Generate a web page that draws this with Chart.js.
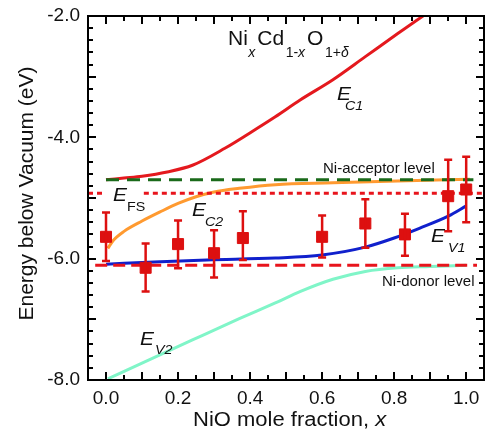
<!DOCTYPE html>
<html><head><meta charset="utf-8">
<script src="https://cdn.jsdelivr.net/npm/chart.js@4.4.0/dist/chart.umd.min.js"></script>
<style>html,body{margin:0;padding:0;background:#fff;} canvas{display:block;}</style>
</head><body>
<canvas id="c" width="493" height="432"></canvas>
<script>
// ---- data ----
const xTickLabels = [0.0, 0.2, 0.4, 0.6, 0.8, 1.0];
const yTickLabels = [-8.0, -6.0, -4.0, -2.0];

const ec1X = [0.0, 0.05, 0.10, 0.17, 0.24, 0.33, 0.42, 0.47, 0.54, 0.63, 0.72, 0.81, 0.88, 0.90];
const ec1Y = [-4.70, -4.67, -4.64, -4.57, -4.46, -4.18, -3.85, -3.66, -3.38, -3.05, -2.67, -2.29, -2.00, -1.92];

const ec2X = [0.005, 0.02, 0.05, 0.10, 0.15, 0.20, 0.25, 0.30, 0.37, 0.47, 0.63, 0.81, 1.01];
const ec2Y = [-5.83, -5.70, -5.55, -5.38, -5.23, -5.09, -4.98, -4.90, -4.84, -4.78, -4.75, -4.72, -4.69];

const ev1X = [0.0, 0.15, 0.28, 0.47, 0.60, 0.72, 0.80, 0.87, 0.95, 1.00];
const ev1Y = [-6.09, -6.05, -6.02, -5.99, -5.94, -5.81, -5.66, -5.50, -5.30, -5.13];

const ev2X = [0.005, 0.10, 0.24, 0.37, 0.47, 0.54, 0.63, 0.72, 0.81, 0.90, 1.00];
const ev2Y = [-7.98, -7.72, -7.34, -6.99, -6.73, -6.54, -6.34, -6.21, -6.15, -6.13, -6.11];

const acceptorX = [0.0, 1.02];
const acceptorY = [-4.70, -4.70];
const donorX = [-0.03, 1.03];
const donorY = [-6.11, -6.11];
const efsX = [-0.05, 0.0, 0.05, 0.105, 1.05];
const efsY = [-4.92, -4.92, null, -4.92, -4.92];

const measX = [0.0, 0.11, 0.20, 0.30, 0.38, 0.60, 0.72, 0.83, 0.95, 1.00];
const measY = [-5.64, -6.15, -5.76, -5.91, -5.66, -5.64, -5.42, -5.60, -4.97, -4.86];
const errTop = [-5.24, -5.75, -5.37, -5.53, -5.22, -5.29, -5.02, -5.26, -4.37, -4.32];
const errBottom = [-6.04, -6.54, -6.16, -6.31, -6.02, -5.98, -5.82, -5.95, -5.55, -5.40];

// ---- helpers ----
const zip = (xs, ys) => xs.map((x, i) => ({x: x, y: ys[i]}));
const FONT = '"Liberation Sans", Arial, Helvetica, sans-serif';

function lineDs(xs, ys, color, width, dash) {
  return {
    type: 'line', data: zip(xs, ys), borderColor: color, borderWidth: width,
    borderDash: dash || [], pointRadius: 0, fill: false,
    cubicInterpolationMode: 'monotone', spanGaps: false, borderCapStyle: 'butt'
  };
}

function noPad(s) { s.paddingTop = 0; s.paddingBottom = 0; s.paddingLeft = 0; s.paddingRight = 0; }

const decor = {
  id: 'decor',
  afterDatasetsDraw(chart) {
    const ctx = chart.ctx, xs = chart.scales.x, ys = chart.scales.y;
    ctx.save();
    ctx.setLineDash([]);
    ctx.strokeStyle = '#dd1010';
    ctx.lineWidth = 2.5;
    for (let i = 0; i < measX.length; i++) {
      const px = xs.getPixelForValue(measX[i]);
      const t = ys.getPixelForValue(errTop[i]);
      const b = ys.getPixelForValue(errBottom[i]);
      ctx.beginPath();
      ctx.moveTo(px, t); ctx.lineTo(px, b);
      ctx.moveTo(px - 4, t); ctx.lineTo(px + 4, t);
      ctx.moveTo(px - 4, b); ctx.lineTo(px + 4, b);
      ctx.stroke();
    }
    ctx.restore();
  },
  afterDraw(chart) {
    const ctx = chart.ctx, xs = chart.scales.x, ys = chart.scales.y;
    const L0 = Math.round(xs.getPixelForValue(-0.05)), R0 = Math.round(xs.getPixelForValue(1.05));
    const T0 = Math.round(ys.getPixelForValue(-2)), B0 = Math.round(ys.getPixelForValue(-8));
    ctx.save();
    ctx.fillStyle = '#000000';
    // frame, 2px
    ctx.fillRect(L0 - 1, T0 - 1, R0 - L0 + 2, 2);
    ctx.fillRect(L0 - 1, B0 - 1, R0 - L0 + 2, 2);
    ctx.fillRect(L0 - 1, T0 - 1, 2, B0 - T0 + 2);
    ctx.fillRect(R0 - 1, T0 - 1, 2, B0 - T0 + 2);
    // inward ticks
    for (let i = 1; i < 30; i++) {
      const py = Math.round(ys.getPixelForValue(-8 + i * 0.2));
      const L = (i % 5 === 0) ? 8 : 5;
      ctx.fillRect(L0, py - 1, L, 2);
      ctx.fillRect(R0 - L, py - 1, L, 2);
    }
    for (let i = 0; i <= 20; i++) {
      const px = Math.round(xs.getPixelForValue(i * 0.05));
      const L = (i % 2 === 0) ? 8 : 5;
      ctx.fillRect(px - 1, B0 - L, 2, L);
      ctx.fillRect(px - 1, T0, 2, L);
    }

    ctx.fillStyle = '#111111';
    ctx.textBaseline = 'alphabetic';
    ctx.textAlign = 'left';
    function txt(s, x, y, size, italic, sx) {
      sx = sx || 1;
      ctx.font = (italic ? 'italic ' : '') + size + 'px ' + FONT;
      ctx.save();
      ctx.translate(x, y);
      ctx.scale(sx, 1);
      ctx.fillText(s, 0, 0);
      ctx.restore();
      return x + ctx.measureText(s).width * sx;
    }
    // compound title
    let e = txt('Ni', 228, 45, 21);
    e = txt('x', e + 0.5, 57, 14, true);
    e = txt('Cd', e + 2, 45, 21);
    e = txt('1-', e + 1.5, 57, 14);
    e = txt('x', e, 57, 14, true);
    e = txt('O', e + 2, 45, 21);
    e = txt('1+', e + 1.5, 57, 14);
    txt('\u03B4', e, 57, 14, true);
    // band labels
    txt('E', 337, 100, 19, true, 1.1); txt('C1', 345, 110, 13, true, 1.1);
    txt('E', 113, 201, 19, true, 1.1); txt('FS', 127, 211, 13, false, 1.1);
    txt('E', 192, 216, 19, true, 1.1); txt('C2', 205, 226, 13, true, 1.1);
    txt('E', 431, 242, 19, true, 1.1); txt('V1', 448, 252, 13, true, 1.1);
    txt('E', 140, 345, 19, true, 1.1); txt('V2', 155, 354, 13, true, 1.1);
    txt('Ni-acceptor level', 323, 173, 15);
    txt('Ni-donor level', 382, 286, 15);
    // axis titles
    e = txt('NiO mole fraction, ', 193, 426, 20, false, 1.1);
    txt('x', e, 426, 20, true, 1.1);
    ctx.translate(33, 193.5);
    ctx.rotate(-Math.PI / 2);
    ctx.font = '21px ' + FONT;
    ctx.textAlign = 'center';
    ctx.fillText('Energy below Vacuum (eV)', 0, 0);
    ctx.restore();
  }
};

new Chart(document.getElementById('c'), {
  type: 'line',
  data: {
    datasets: [
      {
        type: 'line', data: zip(measX, measY), showLine: false,
        pointStyle: 'rect', pointRadius: 7.8, pointBackgroundColor: '#dd1010',
        pointBorderWidth: 1, pointBorderColor: '#dd1010'
      },
      lineDs(acceptorX, acceptorY, '#1a6a1a', 3, [13, 8]),
      lineDs(efsX, efsY, '#e8141c', 3, [5, 4]),
      lineDs(donorX, donorY, '#e8141c', 3, [12, 6]),
      lineDs(ec1X, ec1Y, '#e4191e', 3),
      lineDs(ec2X, ec2Y, '#ff9a30', 3),
      lineDs(ev1X, ev1Y, '#1020cc', 3),
      lineDs(ev2X, ev2Y, '#80f5c8', 3)
    ]
  },
  options: {
    responsive: false, animation: false, devicePixelRatio: 1, events: [],
    layout: {padding: {top: 16, right: 3, left: 0, bottom: 0}},
    plugins: {legend: {display: false}, tooltip: {enabled: false}},
    scales: {
      x: {
        type: 'linear', min: -0.05, max: 1.05,
        grid: {display: false, drawTicks: false, tickLength: 0},
        border: {display: false},
        afterBuildTicks: s => { s.ticks = xTickLabels.map(v => ({value: v})); },
        afterFit: s => { s.height = 52; noPad(s); },
        ticks: {
          font: {family: FONT, size: 19}, color: '#111', padding: 7,
          maxRotation: 0, autoSkip: false,
          callback: v => Number(v).toFixed(1)
        }
      },
      y: {
        type: 'linear', min: -8, max: -2,
        grid: {display: false, drawTicks: false, tickLength: 0},
        border: {display: false},
        afterBuildTicks: s => { s.ticks = yTickLabels.map(v => ({value: v})); },
        afterFit: s => { s.width = 88; noPad(s); },
        ticks: {
          font: {family: FONT, size: 19}, color: '#111', padding: 8,
          autoSkip: false,
          callback: v => Number(v).toFixed(1)
        }
      }
    }
  },
  plugins: [decor]
});
</script>
</body></html>
